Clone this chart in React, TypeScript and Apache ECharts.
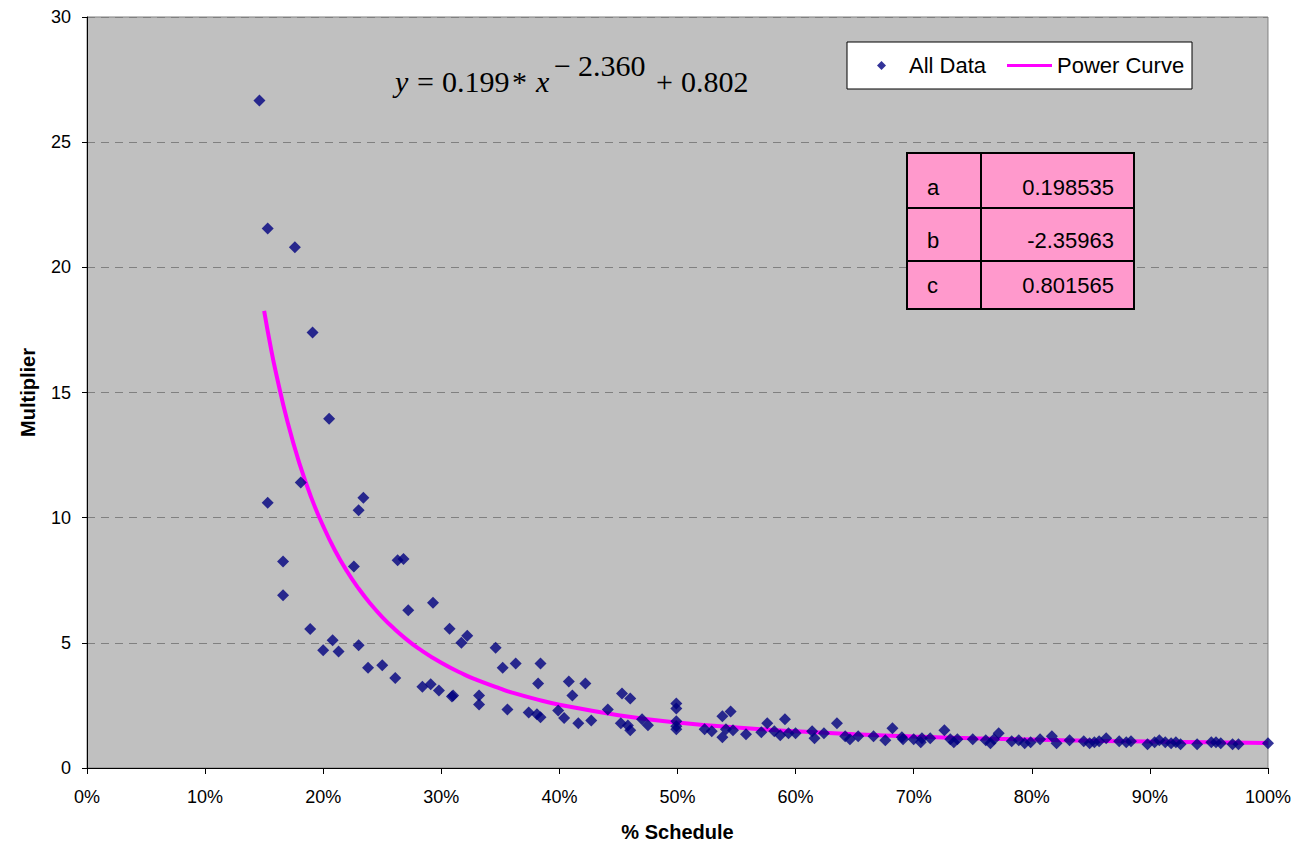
import React, { useEffect, useRef } from "react";
import * as echarts from "echarts";

// Scatter data: % schedule (x) and multiplier (y)
const scheduleX = [
  14.6, 15.3, 15.3, 17.6, 16.6, 16.6, 18.1, 19.1, 18.9, 20.5, 20.0, 20.8, 21.3, 22.6, 23.0, 23.4,
  23.0, 23.8, 25.0, 26.1, 26.3, 26.8, 27.2, 28.4, 29.1, 29.3, 29.8, 30.7, 30.9, 31.0, 31.7, 32.2,
  33.2, 33.2, 34.6, 35.2, 35.6, 36.3, 37.4, 38.1, 38.2, 38.4, 38.4, 39.9, 40.4, 40.8, 41.1, 41.6,
  42.2, 42.7, 44.1, 45.2, 45.3, 45.8, 46.0, 46.0, 47.0, 47.5, 49.9, 49.9, 49.9, 49.9, 49.9, 52.3,
  52.9, 53.8, 53.8, 54.1, 54.5, 54.7, 55.8, 57.1, 57.6, 58.2, 58.7, 59.1, 59.4, 60.0, 61.4, 61.6,
  62.4, 63.5, 64.2, 64.6, 65.3, 66.6, 67.6, 68.2, 69.0, 69.1, 70.0, 70.6, 70.7, 71.4, 72.6, 73.1,
  73.4, 73.7, 75.0, 76.1, 76.5, 76.8, 77.2, 78.3, 78.9, 79.4, 79.9, 80.7, 81.7, 82.1, 83.2, 84.4,
  84.9, 85.3, 85.7, 86.3, 87.4, 88.0, 88.4, 89.8, 90.4, 90.8, 91.3, 91.8, 92.2, 92.6, 94.0, 95.2,
  95.6, 96.0, 97.0, 97.5, 100,
];
const multiplierY = [
  26.66, 21.55, 10.6, 20.8, 8.25, 6.9, 11.4, 17.4, 5.55, 13.95, 4.7, 5.1, 4.65, 8.05, 10.3, 10.8,
  4.9, 4.0, 4.1, 3.6, 8.3, 8.35, 6.3, 3.25, 3.35, 6.6, 3.1, 5.56, 2.86, 2.9, 5.0, 5.28,
  2.9, 2.54, 4.8, 4.0, 2.34, 4.17, 2.22, 2.15, 3.38, 2.03, 4.17, 2.3, 2.0, 3.46, 2.9, 1.79,
  3.38, 1.9, 2.34, 1.79, 2.98, 1.7, 1.51, 2.78, 1.95, 1.71, 2.58, 2.38, 1.87, 1.67, 1.55, 1.55,
  1.47, 2.07, 1.23, 1.55, 2.26, 1.51, 1.35, 1.43, 1.79, 1.47, 1.31, 1.95, 1.39, 1.39, 1.47, 1.19,
  1.39, 1.79, 1.27, 1.15, 1.27, 1.27, 1.11, 1.59, 1.23, 1.15, 1.15, 1.03, 1.19, 1.19, 1.51, 1.15,
  1.03, 1.15, 1.15, 1.11, 0.99, 1.15, 1.39, 1.07, 1.11, 0.99, 1.03, 1.15, 1.27, 0.99, 1.11, 1.07,
  0.99, 1.03, 1.07, 1.19, 1.07, 1.03, 1.07, 0.95, 1.03, 1.11, 1.03, 0.99, 1.03, 0.95, 0.95, 1.03,
  1.03, 0.99, 0.95, 0.95, 0.99,
];

// Power curve, read at these x positions (%)
const curveX = [15, 15.5, 16, 17, 18, 19, 20, 21, 22, 23, 24, 25, 26, 27, 28, 30, 32, 33, 35, 36, 38, 40, 45, 50, 55, 60, 65, 70, 75, 80, 85, 90, 95, 100];
const curveY = [18.26, 16.95, 15.79, 13.79, 12.15, 10.79, 9.66, 8.69, 7.87, 7.17, 6.56, 6.03, 5.57, 5.16, 4.8, 4.2, 3.72, 3.52, 3.17, 3.01, 2.75, 2.53, 2.11, 1.82, 1.615, 1.464, 1.35, 1.262, 1.19, 1.138, 1.09, 1.056, 1.03, 1.0];

// Fit parameters table
const paramNames = ["a", "b", "c"];
const paramValues = ["0.198535", "-2.35963", "0.801565"];

// Axis ticks
const yTicks = [0, 5, 10, 15, 20, 25, 30];

const SANS = '"Liberation Sans", Arial, sans-serif';
const SERIF = '"Liberation Serif", "Times New Roman", serif';

export default function App() {
  const ref = useRef<HTMLDivElement>(null);

  useEffect(() => {
    if (!ref.current) return;
    const chart = echarts.init(ref.current, null, { renderer: "svg" });

    const scatterData = scheduleX.map((x, i) => [x, multiplierY[i]]);
    const curveData = curveX.map((x, i) => [x, curveY[i]]);

    // table graphics
    const tblLeft = 907;
    const colDiv = 981;
    const tblRight = 1134;
    const rowEdges = [153, 208, 261, 309];
    const textCenters = [187.5, 240.5, 285.5];
    const tableEls: any[] = [];
    paramNames.forEach((n, i) => {
      tableEls.push({
        type: "rect",
        shape: { x: tblLeft, y: rowEdges[i], width: colDiv - tblLeft, height: rowEdges[i + 1] - rowEdges[i] },
        style: { fill: "#FF99CC", stroke: "#000", lineWidth: 2 },
        z: 10,
      });
      tableEls.push({
        type: "rect",
        shape: { x: colDiv, y: rowEdges[i], width: tblRight - colDiv, height: rowEdges[i + 1] - rowEdges[i] },
        style: { fill: "#FF99CC", stroke: "#000", lineWidth: 2 },
        z: 10,
      });
      tableEls.push({
        type: "text",
        x: 927,
        y: textCenters[i],
        style: { text: n, font: `22px ${SANS}`, fill: "#000", verticalAlign: "middle", align: "left" },
        z: 11,
      });
      tableEls.push({
        type: "text",
        x: 1114,
        y: textCenters[i],
        style: { text: paramValues[i], font: `22px ${SANS}`, fill: "#000", verticalAlign: "middle", align: "right" },
        z: 11,
      });
    });

    const eqMain = 81;
    const eqSup = 65;
    const eqPieces: [string, number, number, boolean][] = [
      ["y", 395, eqMain, true],
      ["=", 417, eqMain, false],
      ["0.199", 442, eqMain, false],
      ["*", 512, eqMain, false],
      ["x", 536, eqMain, true],
      ["\u2212", 554, eqSup, false],
      ["2.360", 578, eqSup, false],
      ["+", 656, eqMain, false],
      ["0.802", 681, eqMain, false],
    ];
    const eqEls = eqPieces.map(([t, x, y, it]) => ({
      type: "text",
      x,
      y,
      style: {
        text: t,
        font: `${it ? "italic " : ""}30px ${SERIF}`,
        fill: "#000",
        verticalAlign: "middle",
        align: "left",
      },
      z: 10,
    }));

    chart.setOption({
      animation: false,
      backgroundColor: "#ffffff",
      grid: {
        left: 87,
        top: 17,
        right: 26,
        bottom: 75,
        show: true,
        backgroundColor: "#C0C0C0",
        borderColor: "#808080",
        borderWidth: 1,
      },
      xAxis: {
        type: "value",
        min: 0,
        max: 100,
        interval: 10,
        name: "% Schedule",
        nameLocation: "middle",
        nameGap: 54,
        nameTextStyle: { fontFamily: SANS, fontSize: 20, fontWeight: "bold", color: "#000" },
        axisLine: { show: true, lineStyle: { color: "#000", width: 1 } },
        axisTick: { show: true, length: 6, lineStyle: { color: "#000" } },
        axisLabel: { formatter: "{value}%", fontFamily: SANS, fontSize: 18, color: "#000", margin: 20 },
        splitLine: { show: false },
      },
      yAxis: {
        type: "value",
        min: yTicks[0],
        max: yTicks[yTicks.length - 1],
        interval: 5,
        name: "Multiplier",
        nameLocation: "middle",
        nameGap: 49,
        nameTextStyle: { fontFamily: SANS, fontSize: 20, fontWeight: "bold", color: "#000" },
        axisLine: { show: true, lineStyle: { color: "#000", width: 1 } },
        axisTick: { show: true, length: 5, lineStyle: { color: "#000" } },
        axisLabel: { fontFamily: SANS, fontSize: 18, color: "#000", margin: 16 },
        splitLine: { show: true, lineStyle: { color: "#808080", type: [8, 6], width: 1 } },
      },
      legend: [
        {
          data: [{ name: "All Data", icon: "path://M0,-1L1,0L0,1L-1,0Z" }],
          left: 877,
          top: 54.5,
          padding: 0,
          itemWidth: 45,
          itemHeight: 9,
          symbolKeepAspect: true,
          textStyle: { fontFamily: SANS, fontSize: 22, color: "#000" },
          z: 20,
        },
        {
          data: [{ name: "Power Curve", icon: "rect" }],
          left: 1007,
          top: 54.5,
          padding: 0,
          itemWidth: 45,
          itemHeight: 3,
          textStyle: { fontFamily: SANS, fontSize: 22, color: "#000" },
          z: 20,
        },
      ],
      graphic: [
        {
          type: "rect",
          shape: { x: 847, y: 42, width: 345, height: 47 },
          style: { fill: "#ffffff", stroke: "#000", lineWidth: 1 },
          z: 5,
        },
        ...tableEls,
        ...eqEls,
      ],
      series: [
        {
          name: "Power Curve",
          type: "line",
          data: curveData,
          smooth: true,
          showSymbol: false,
          symbol: "none",
          lineStyle: { color: "#FF00FF", width: 4 },
          itemStyle: { color: "#FF00FF" },
          z: 2,
        },
        {
          name: "All Data",
          type: "scatter",
          data: scatterData,
          symbol: "diamond",
          symbolSize: 12,
          itemStyle: { color: "#000080" },
          z: 3,
        },
      ],
    });

    return () => chart.dispose();
  }, []);

  return (
    <div
      ref={ref}
      style={{ position: "fixed", left: 0, top: 0, width: 1294, height: 847 }}
    />
  );
}
